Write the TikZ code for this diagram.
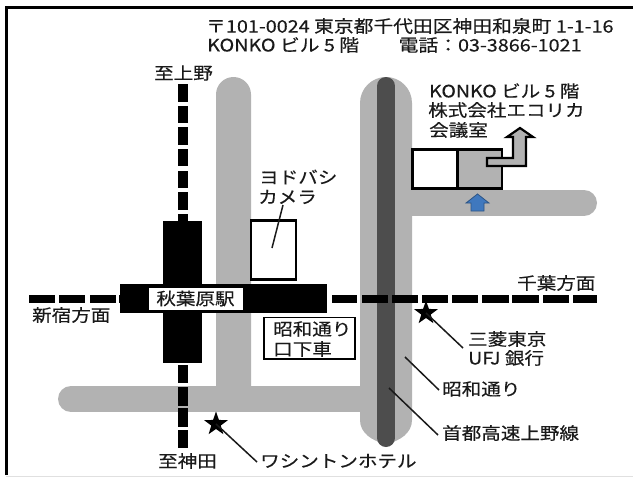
\documentclass[tikz,border=0pt]{standalone}
\usepackage{fontspec}
\usetikzlibrary{shapes.geometric}
\newfontfamily\jp[FakeStretch=1.15,FakeBold=0.35]{Noto Sans CJK JP}
\definecolor{road}{HTML}{B2B2B2}
\definecolor{expressway}{HTML}{4D4D4D}
\definecolor{bluearrow}{HTML}{3F78BE}
\definecolor{ink}{HTML}{1A1A1A}
\tikzset{
  x=1pt,y=-1pt,
  label/.style={font=\jp\fontsize{17}{17}\selectfont,text=ink,inner sep=0pt,anchor=west},
  addr/.style={label,font=\jp\fontsize{17.2}{17}\selectfont},
  roadline/.style={draw=road,line width=26pt,line cap=round},
  expressline/.style={draw=expressway,line width=18pt,line cap=round},
  leader/.style={draw=ink,line width=1.5pt},
  block/.style={fill=black},
  outlinebox/.style={draw=black,line width=2.6pt},
  starmark/.style={star,star points=5,star point ratio=2.5,fill=black,minimum size=25pt,inner sep=0pt}
}
\begin{document}
\begin{tikzpicture}
\useasboundingbox (0,0) rectangle (633,477);
\fill[white] (0,0) rectangle (633,477);
% frame
\draw[black,line width=2.4pt] (6.5,475) -- (6.5,7.5) -- (633,7.5);
\draw[black!12,line width=.8pt] (6,476.5) -- (633,476.5);
% roads
\fill[road] (216,399) -- (216,94.5) arc[start angle=180,end angle=0,x radius=17.5,y radius=-17.5] -- (251,399) -- cycle;
\draw[roadline] (71,399) -- (386,399);
\draw[roadline] (386,203) -- (584,203);
\fill[road] (360,103) arc[start angle=180,end angle=0,x radius=26,y radius=-26] -- (412,420)
  .. controls (412,433) and (400,441) .. (386,444) .. controls (372,441) and (360,433) .. (360,420) -- cycle;
\draw[expressline] (386,86) -- (386,438);
% rail verticals
\foreach \a/\b in {84/102,106/123,127/145,149/166,171/188,192/210,214/222,365/383,387/406,408/427,430/448}
  \fill[black] (178,\a) rectangle (188,\b);
% rail horizontals
\foreach \a/\b in {29/55,59/85,90/116,119/125,332/357,362/388,392/418,422/448,452/478,482/509,512/539,543/569,573/597}
  \fill[black] (\a,295) rectangle (\b,303);
% station
\fill[block] (163,221) rectangle (202,363);
\fill[block] (120,284) rectangle (327,313);
\node[draw=black,line width=.8pt,fill=white,minimum width=95pt,minimum height=23pt,inner sep=0pt,
  font=\jp\fontsize{17}{17}\selectfont,text=ink] (akiba) at (195.5,298.5) {秋葉原駅};
% Yodobashi
\draw[outlinebox,fill=white] (251,220.5) rectangle (296,279.5);
\coordinate (yodoTop) at (283,205);
\coordinate (yodoIn) at (272,248);
\draw[leader] (yodoTop) -- (yodoIn);
\node[label] (yodo1) at (259,177) {ヨドバシ};
\node[label] (yodo2) at (258,197) {カメラ};
% getting-off box
\draw[black,line width=1.8pt,fill=white] (264,317.5) rectangle (355,359);
\node[label] (shouwa1) at (273,329) {昭和通り};
\node[label] (shouwa2) at (273,349) {口下車};
% building
\draw[outlinebox,fill=white] (412.5,149.5) rectangle (457.5,188.5);
\draw[outlinebox,fill=road] (457.5,149.5) rectangle (502,188.5);
\draw[black,line width=2.2pt,fill=road,line join=miter]
  (487,158) -- (513,158) -- (513,137) -- (507,137) -- (520,128) -- (533,137) -- (526,137) -- (526,166) -- (487,166) -- cycle;
% blue arrow
\draw[draw=bluearrow!70!black,line width=.8pt,fill=bluearrow]
  (477.5,194) -- (466,203) -- (471,203) -- (471,211) -- (484,211) -- (484,203) -- (489,203) -- cycle;
% stars and leaders
\node[starmark] (star1) at (216,424) {};
\node[starmark] (star2) at (426,313) {};
\coordinate (hotelEnd) at (257,462);
\coordinate (bankEnd) at (463,348);
\coordinate (roadPt) at (405,357);
\coordinate (roadEnd) at (439,390);
\coordinate (expPt) at (389,388);
\coordinate (expEnd) at (438,435);
\draw[leader] (star1.center) -- (hotelEnd);
\draw[leader] (star2.center) -- (bankEnd);
\draw[leader] (roadPt) -- (roadEnd);
\draw[leader] (expPt) -- (expEnd);
% labels
\node[addr] (addr1) at (206,26) {〒101-0024 東京都千代田区神田和泉町 1-1-16};
\node[addr] (addr2) at (207,45) {KONKO ビル 5 階　　電話：03-3866-1021};
\node[label] (ueno) at (154,73) {至上野};
\node[label] (kanda) at (158,461) {至神田};
\node[label] (shinjuku) at (32,315) {新宿方面};
\node[label] (chiba) at (517,283) {千葉方面};
\node[label] (k1) at (429,91) {KONKO ビル 5 階};
\node[label] (k2) at (428,110) {株式会社エコリカ};
\node[label] (k3) at (429,130) {会議室};
\node[label] (bank1) at (468,339) {三菱東京};
\node[label] (bank2) at (468,358) {UFJ 銀行};
\node[label] (road) at (442,389) {昭和通り};
\node[label] (expr) at (442,433) {首都高速上野線};
\node[label] (hotel) at (260,461) {ワシントンホテル};
\end{tikzpicture}
\end{document}
